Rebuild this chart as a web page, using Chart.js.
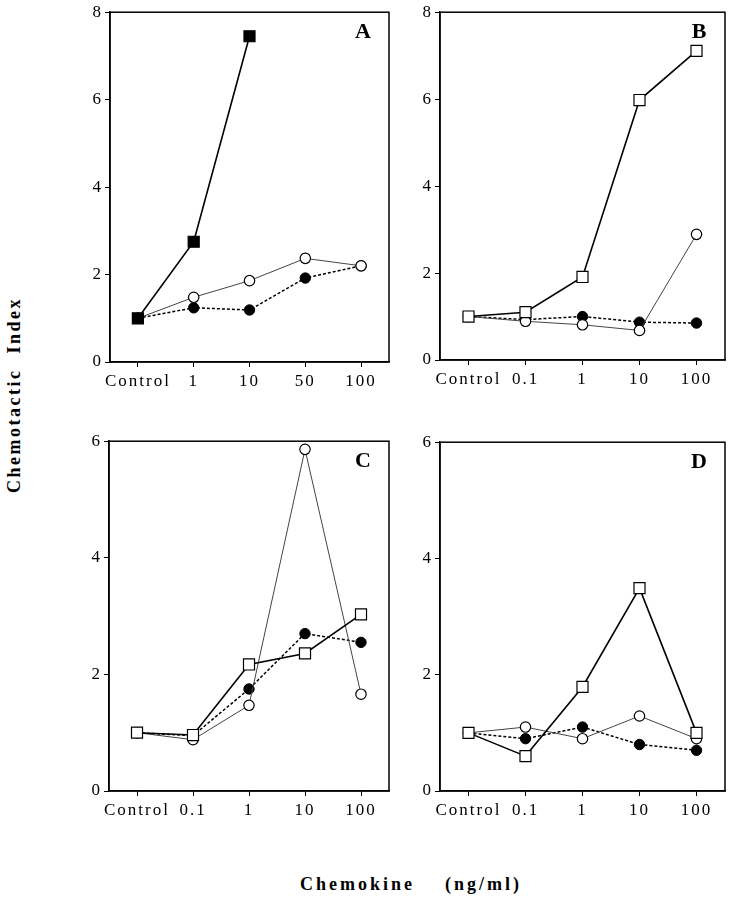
<!DOCTYPE html>
<html>
<head>
<meta charset="utf-8">
<script src="https://cdn.jsdelivr.net/npm/chart.js@4"></script>
<style>
  body { margin: 0; background: #fff; }
  #page { position: relative; width: 734px; height: 900px; overflow: hidden; }
  .panel { position: absolute; }
  .ytitle {
    position: absolute; left: 14px; top: 395px;
    transform: translate(-50%, -50%) rotate(-90deg);
    font: bold 18px "Liberation Serif", serif; letter-spacing: 2.5px;
    white-space: nowrap; color: #000;
  }
  .xtitle {
    position: absolute; left: 300px; top: 874px;
    font: bold 18px "Liberation Serif", serif; letter-spacing: 3px;
    white-space: nowrap; color: #000;
  }
</style>
</head>
<body>
<div id="page">
  <div class="panel" style="left:70px;top:0px;width:330px;height:400px"><canvas id="chartA"></canvas></div>
  <div class="panel" style="left:400px;top:0px;width:334px;height:398px"><canvas id="chartB"></canvas></div>
  <div class="panel" style="left:69px;top:429px;width:331px;height:400px"><canvas id="chartC"></canvas></div>
  <div class="panel" style="left:400px;top:430px;width:334px;height:399px"><canvas id="chartD"></canvas></div>
  <div class="ytitle">Chemotactic<span style="display:inline-block;width:15px"></span>Index</div>
  <div class="xtitle">Chemokine<span style="display:inline-block;width:30px"></span>(ng/ml)</div>
</div>
<script>
// x categories
const labelsA = ['Control', '1', '10', '50', '100'];
const labelsBCD = ['Control', '0.1', '1', '10', '100'];

// y ticks
const yTicksTop = [0, 2, 4, 6, 8];
const yTicksBottom = [0, 2, 4, 6];

// panel A
const squareA = [1.0, 2.75, 7.45, null, null];
const openCircleA = [1.0, 1.48, 1.86, 2.37, 2.2];
const filledCircleA = [1.0, 1.24, 1.19, 1.92, 2.2];

// panel B
const squareB = [1.0, 1.1, 1.91, 5.98, 7.11];
const openCircleB = [1.0, 0.89, 0.81, 0.68, 2.89];
const filledCircleB = [1.0, 0.93, 1.0, 0.87, 0.85];

// panel C
const squareC = [1.0, 0.96, 2.17, 2.36, 3.03];
const openCircleC = [1.0, 0.88, 1.47, 5.86, 1.66];
const filledCircleC = [1.0, 0.95, 1.75, 2.7, 2.55];

// panel D
const squareD = [1.0, 0.6, 1.79, 3.49, 1.0];
const openCircleD = [1.0, 1.1, 0.9, 1.29, 0.9];
const filledCircleD = [1.0, 0.9, 1.1, 0.8, 0.7];

const tickFont = { family: "'Liberation Serif', serif", size: 17 };

// spaced-out tick text like the scanned figure
const spacingPlugin = {
    id: 'spacing',
    beforeUpdate(chart) { chart.ctx.letterSpacing = '2px'; },
    beforeDraw(chart) { chart.ctx.letterSpacing = '2px'; },
};

// box around the plot area plus the panel letter
const framePlugin = {
    id: 'frame',
    afterDraw(chart, args, opts) {
        const { ctx, chartArea } = chart;
        ctx.save();
        ctx.strokeStyle = '#000';
        ctx.lineWidth = 1.5;
        ctx.strokeRect(chartArea.left, chartArea.top, chartArea.right - chartArea.left, chartArea.bottom - chartArea.top);
        ctx.letterSpacing = '0px';
        ctx.fillStyle = '#000';
        ctx.font = "bold 22px 'Liberation Serif', serif";
        ctx.textAlign = 'center';
        ctx.textBaseline = 'middle';
        ctx.fillText(opts.letter, chartArea.right - 26, chartArea.top + 20);
        ctx.restore();
    },
};

function makePanel(id, letter, labels, square, openCircle, filledCircle, squareFilled, yTicks, padRight) {
    const yMax = yTicks[yTicks.length - 1];
    new Chart(document.getElementById(id), {
        type: 'line',
        data: {
            labels: labels,
            datasets: [
                {
                    data: square,
                    borderColor: '#000',
                    borderWidth: 1.6,
                    pointStyle: 'rect',
                    pointRadius: 7.8,
                    pointBorderWidth: 1.2,
                    pointBorderColor: '#000',
                    pointBackgroundColor: squareFilled ? '#000' : '#fff',
                    fill: false,
                },
                {
                    data: openCircle,
                    borderColor: '#444',
                    borderWidth: 1,
                    pointStyle: 'circle',
                    pointRadius: 5.2,
                    pointBorderWidth: 1.2,
                    pointBorderColor: '#000',
                    pointBackgroundColor: '#fff',
                    fill: false,
                },
                {
                    data: filledCircle,
                    borderColor: '#000',
                    borderWidth: 1.5,
                    borderDash: [3, 2],
                    pointStyle: 'circle',
                    pointRadius: 5.2,
                    pointBorderWidth: 1,
                    pointBorderColor: '#000',
                    pointBackgroundColor: '#000',
                    fill: false,
                },
            ],
        },
        options: {
            responsive: true,
            maintainAspectRatio: false,
            animation: false,
            clip: false,
            layout: { padding: { top: 9, right: padRight, left: 0, bottom: 0 } },
            elements: { line: { tension: 0 } },
            scales: {
                x: {
                    type: 'category',
                    offset: true,
                    afterFit: (axis) => { axis.height = 38; },
                    grid: {
                        offset: false,
                        drawOnChartArea: false,
                        drawTicks: true,
                        tickLength: 5,
                        color: '#000',
                        lineWidth: 1,
                    },
                    border: { color: '#000', width: 1.5 },
                    ticks: { color: '#000', font: tickFont, padding: 4, maxRotation: 0, autoSkip: false },
                },
                y: {
                    min: 0,
                    max: yMax,
                    afterFit: (axis) => { axis.width = 40; },
                    afterBuildTicks: (axis) => { axis.ticks = yTicks.map(v => ({ value: v })); },
                    grid: {
                        drawOnChartArea: false,
                        drawTicks: true,
                        tickLength: 5,
                        color: '#000',
                        lineWidth: 1,
                    },
                    border: { color: '#000', width: 1.5 },
                    ticks: { color: '#000', font: tickFont, padding: 2 },
                },
            },
            plugins: {
                legend: { display: false },
                tooltip: { enabled: false },
                frame: { letter: letter },
            },
        },
        plugins: [spacingPlugin, framePlugin],
    });
}

makePanel('chartA', 'A', labelsA, squareA, openCircleA, filledCircleA, true, yTicksTop, 11);
makePanel('chartB', 'B', labelsBCD, squareB, openCircleB, filledCircleB, false, yTicksTop, 9);
makePanel('chartC', 'C', labelsBCD, squareC, openCircleC, filledCircleC, false, yTicksBottom, 11);
makePanel('chartD', 'D', labelsBCD, squareD, openCircleD, filledCircleD, false, yTicksBottom, 9);
</script>
</body>
</html>
